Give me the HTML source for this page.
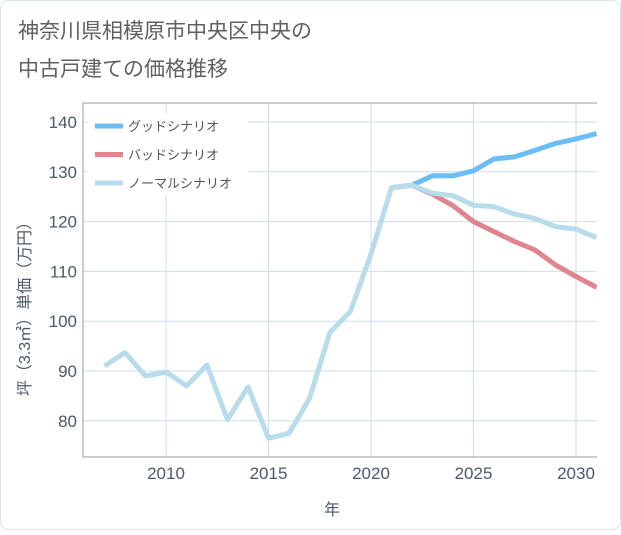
<!DOCTYPE html>
<html><head><meta charset="utf-8"><style>
body{margin:0;background:#fff;}
svg text{font-family:"Liberation Sans","Noto Sans CJK JP",sans-serif;}
</style></head><body>
<svg width="621" height="530" viewBox="0 0 621 530">
<rect x="0.5" y="0.5" width="620" height="529" rx="8" fill="#fff" stroke="#dde3ea"/>
<text x="18" y="38" font-size="21" fill="#606060">神奈川県相模原市中央区中央の</text>
<text x="18" y="76" font-size="21" fill="#606060">中古戸建ての価格推移</text>
<g id="grid"></g>
<g id="axes"></g>
<g id="lines"></g>
<g id="legend"></g>
<text x="332" y="515" font-size="16" fill="#4a5a6a" text-anchor="middle">年</text>
<text transform="translate(30,305) rotate(-90)" font-size="16" fill="#4a5a6a" text-anchor="middle">坪（3.3㎡）単価（万円）</text>
</svg>
<script>
const normalYears=[2007,2008,2009,2010,2011,2012,2013,2014,2015,2016,2017,2018,2019,2020,2021,2022,2023,2024,2025,2026,2027,2028,2029,2030,2031];
const normalVals=[91,93.7,89,89.8,87,91.2,80.2,86.8,76.5,77.5,84.5,97.8,102,113.5,126.8,127.3,125.7,125.2,123.3,123,121.5,120.6,119,118.5,116.8];
const futureYears=[2021,2022,2023,2024,2025,2026,2027,2028,2029,2030,2031];
const goodVals=[126.8,127.3,129.2,129.2,130.2,132.6,133,134.3,135.7,136.6,137.7];
const badVals=[126.8,127.3,125.5,123.2,120,118,116,114.3,111.3,109,106.8];
const xTicks=[2010,2015,2020,2025,2030];
const yTicks=[80,90,100,110,120,130,140];
const L=83,R=597,T=103,B=457;
const xs=y=>166+(y-2010)*20.5;
const ys=v=>122+(140-v)*4.98;
const NS='http://www.w3.org/2000/svg';
function mk(tag,attrs,parent){const e=document.createElementNS(NS,tag);for(const k in attrs)e.setAttribute(k,attrs[k]);parent.appendChild(e);return e;}
const grid=document.getElementById('grid'),axes=document.getElementById('axes'),lines=document.getElementById('lines'),legend=document.getElementById('legend');
for(const t of xTicks){
 const g=mk('line',{x1:xs(t),x2:xs(t),y1:T,y2:B,stroke:'#cfdde9','stroke-width':1},grid);
 
 
 const tx=mk('text',{x:xs(t),y:B+22,'font-size':17,fill:'#4a5a6a','text-anchor':'middle'},axes);
 tx.textContent=t;
 
 
}
for(const t of yTicks){
 const g=mk('line',{x1:L,x2:R,y1:ys(t),y2:ys(t),stroke:'#cfdde9','stroke-width':1},grid);
 
 
 const tx=mk('text',{x:L-6,y:ys(t)+6,'font-size':17,fill:'#4a5a6a','text-anchor':'end'},axes);
 tx.textContent=t;
 
 
}
const fr=mk('path',{d:`M${R},${T}H${L}V${B}H${R}`,fill:'none',stroke:'#999','stroke-width':1},axes);


const clip=mk('clipPath',{id:'pc'},document.querySelector('svg'));
mk('rect',{x:L,y:T,width:R-L,height:B-T},clip);
function line(years,vals,color,name){
 const d=years.map((y,i)=>(i?'L':'M')+xs(y).toFixed(1)+','+ys(vals[i]).toFixed(1)).join('');
 const p=mk('path',{d,fill:'none',stroke:color,'stroke-width':5,'stroke-linejoin':'round','clip-path':'url(#pc)'},lines);
 
 
}
line(futureYears,goodVals,'#6bbef5','good-scenario-line');
line(futureYears,badVals,'#e0848e','bad-scenario-line');
line(normalYears,normalVals,'#b8dcec','normal-scenario-line');
const bg=mk('rect',{x:88,y:113,width:160,height:82,fill:'#fff'},legend);


const items=[['グッドシナリオ','#6bbef5'],['バッドシナリオ','#e0848e'],['ノーマルシナリオ','#b8dcec']];
items.forEach((it,i)=>{
 const y=126+i*28.5;
 const l=mk('line',{x1:95,x2:123,y1:y,y2:y,stroke:it[1],'stroke-width':5},legend);
 
 
 const t=mk('text',{x:128,y:y+5,'font-size':13,fill:'#555'},legend);
 t.textContent=it[0];
 
 
});
</script>
</body></html>
